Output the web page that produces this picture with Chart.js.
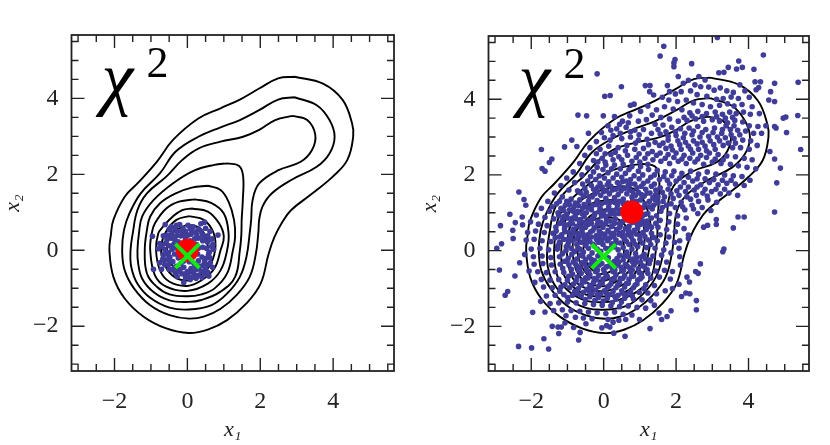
<!DOCTYPE html>
<html>
<head>
<meta charset="utf-8">
<style>
html,body{margin:0;padding:0;background:#fff;}
canvas{position:absolute;}
</style>
<script src="https://cdn.jsdelivr.net/npm/chart.js@4"></script>
</head>
<body>
<canvas id="left_panel" width="415" height="445" style="left:0;top:0"></canvas>
<canvas id="right_panel" width="413" height="444" style="left:417px;top:1px"></canvas>
<script>
var majorTicks = [-2,0,2,4];
var minorTicks = [-3,-2.5,-1.5,-1,-.5,.5,1,1.5,2.5,3,3.5,4.5,5,5.5];
var axisMin = -3.18, axisMax = 5.67;
var xLabel = "x\u2081", yLabel = "x\u2082", chiLabel = "\u03C7", chiPower = "2";

var redLeft = [[0,0]];
var redRight = [[.78,1.02]];
var greenCross = [[0,-.15]];

var contour1 = [[2.94,4.57],[3.72,4.39],[4.26,3.96],[4.52,3.34],[4.55,2.99],[4.39,2.38],[3.99,1.94],[3.38,1.46],[2.85,1.06],[2.59,.72],[2.39,.35],[2.23,-.09],[2.01,-.88],[1.62,-1.40],[1.09,-1.84],[.56,-2.09],[.04,-2.18],[-.58,-2.06],[-1.2,-1.75],[-1.72,-1.27],[-2.03,-.70],[-2.14,0],[-2.1,.4],[-2.03,.80],[-1.72,1.41],[-1.37,1.76],[-.84,2.33],[-.40,2.9],[.3,3.47],[.91,3.74],[1.44,3.97],[1.97,4.26],[2.49,4.53],[2.94,4.57]];
var contour2 = [[2.94,4.03],[3.55,3.82],[3.9,3.43],[4.04,2.99],[3.9,2.55],[3.55,2.2],[2.85,1.85],[2.32,1.5],[2.06,1.15],[1.97,.8],[1.95,.5],[1.88,-.09],[1.71,-.7],[1.35,-1.18],[.91,-1.54],[.47,-1.74],[.04,-1.8],[-.49,-1.71],[-1.02,-1.45],[-1.46,-1.01],[-1.72,-.53],[-1.79,0],[-1.74,.53],[-1.59,.97],[-1.28,1.5],[-.75,2.03],[-.32,2.6],[.3,2.99],[.91,3.24],[1.44,3.43],[1.97,3.69],[2.49,3.97],[2.94,4.03]];
var contour3 = [[2.89,3.54],[3.29,3.43],[3.51,3.04],[3.42,2.64],[3.11,2.33],[2.5,2.11],[1.97,1.76],[1.79,1.32],[1.75,.8],[1.72,.53],[1.62,-.18],[1.44,-.7],[1.09,-1.14],[.65,-1.45],[.04,-1.56],[-.49,-1.51],[-1.02,-1.25],[-1.37,-.88],[-1.54,-.44],[-1.56,0],[-1.5,.44],[-1.37,1.06],[-1.11,1.5],[-.58,1.94],[-.14,2.38],[.3,2.68],[.91,2.86],[1.53,2.99],[1.97,3.17],[2.41,3.43],[2.89,3.54]];
var contour4 = [[1.09,2.29],[1.42,2.22],[1.53,1.95],[1.52,1.3],[1.49,.8],[1.48,.4],[1.44,0],[1.31,-.7],[.91,-1.09],[.39,-1.31],[.04,-1.36],[-.49,-1.32],[-.93,-1.1],[-1.24,-.75],[-1.35,-.35],[-1.37,0],[-1.33,.44],[-1.24,.89],[-.93,1.32],[-.4,1.76],[.21,2.11],[.74,2.25],[1.09,2.29]];
var contour5 = [[.56,1.7],[.91,1.59],[1.13,1.28],[1.28,.8],[1.31,.36],[1.25,0],[1.09,-.61],[.74,-1.01],[.39,-1.16],[0,-1.21],[-.49,-1.16],[-.84,-.96],[-1.11,-.61],[-1.17,0],[-1.11,.53],[-1.02,.89],[-.75,1.24],[-.32,1.5],[.12,1.65],[.56,1.7]];
var contour6 = [[.21,1.34],[.65,1.25],[1,.97],[1.13,.45],[1.09,0],[.91,-.53],[.56,-.88],[0,-1.07],[-.58,-.96],[-.89,-.66],[-1.02,0],[-.98,.44],[-.89,.71],[-.58,1.1],[-.23,1.28],[.21,1.34]];
var contour7 = [[.12,1.1],[.56,1.02],[.87,.71],[1,.36],[.91,0],[.74,-.48],[.39,-.79],[0,-.94],[-.49,-.83],[-.75,-.53],[-.86,0],[-.8,.44],[-.67,.62],[-.4,.89],[-.14,1.06],[.12,1.1]];
var contour8 = [[.05,.9],[.45,.8],[.72,.45],[.76,0],[.58,-.45],[.25,-.7],[-.05,-.8],[-.42,-.66],[-.66,-.3],[-.72,.1],[-.58,.5],[-.3,.8],[.05,.9]];
var contour9 = [[0,.68],[.35,.58],[.55,.2],[.5,-.25],[.2,-.55],[-.15,-.6],[-.45,-.35],[-.56,.05],[-.42,.45],[0,.68]];
var contours = [contour1,contour2,contour3,contour4,contour5,contour6,contour7,contour8,contour9];

var leftPoints = [[-.61,.68],[-.96,.37],[-.21,.68],[.02,.66],[.47,.74],[.37,.7],[.84,.4],[.69,-.45],[-.93,-.5],[-.71,-.5],[-.76,-.33],[-.1,-.85],[.08,-.77],[.59,-.68],[.4,-.72],[-.8,.04],[-.76,.18],
[-.5,.55],[-.42,.48],[-.35,.6],[-.28,.5],[-.12,.58],[-.05,.5],[.08,.57],[.16,.62],[.22,.48],[.3,.56],[.1,.42],[-.18,.38],[-.45,.32],[-.55,.4],[-.35,.28],[-.6,.18],[-.5,.12],[-.38,.15],[-.25,.22],[-.62,.02],[-.52,-.06],[-.42,.03],[-.3,.06],[-.66,-.12],[-.48,-.18],[-.35,-.1],[-.58,-.25],[-.4,-.3],[-.25,-.2],[-.52,-.38],[-.3,-.42],[-.18,-.35],[-.42,-.52],[-.2,-.5],[-.1,-.45],[-.33,-.6],[-.15,-.62],[0,-.56],[.1,-.48],[.02,-.68],[.18,-.62],[.25,-.5],[.3,-.66],[.38,-.55],[.5,-.5],[.48,-.62],[.55,-.38],[.42,-.4],[.62,-.2],[.5,-.22],[.4,-.18],[.6,-.05],[.72,.02],[.52,.05],[.42,.08],[.7,.15],[.55,.22],[.42,.25],[.68,.3],[.56,.38],[.42,.4],[.3,.32],[.62,.5],[.5,.58],[.2,.3],[.08,.25],[-.05,.3],[-.15,.18],[.25,.15],[.3,.05],[.28,-.1],[.3,-.28],[.18,-.35],[.05,-.3],[-.1,-.28],[-.2,-.1],[-.18,.02],[-.08,.12],[.1,.12],[.12,-.02],[0,.02],[-.02,-.14],[.14,-.16],
[-.44,.62],[-.3,.66],[-.16,.5],[.02,.4],[.13,.5],[.26,.4],[.37,.5],[.45,.3],[.62,.28],[.66,.1],[.58,-.12],[.47,-.3],[.63,-.33],[.56,-.58],[.33,-.42],[.22,-.42],[.12,-.56],[-.06,-.62],[-.24,-.56],[-.36,-.46],[-.47,-.28],[-.6,-.1],[-.7,.1],[-.56,.28],[-.44,.4],[-.3,.38],[-.1,.4],[-.68,-.24],[-.62,-.38],[-.5,-.5],[-.28,-.7],[-.05,-.72],[.15,-.7],[.24,-.74],[-.66,.38]];

var rightPoints = [[3.14,5.63],[1.66,5.4],[1.56,5.14],[1.97,5.05],[1.94,4.96],[1.94,4.86],[2.43,4.94],[4.41,5.17],[3.73,5.01],[3.44,4.84],[3.67,4.8],[3.83,4.84],[4.15,4.79],[3.32,4.71],[3.18,4.7],[2.63,4.6],[2.06,4.6],[-.18,4.67],[5.37,4.45],[4.72,4.42],[4.33,4.46],[4.18,4.46],[2.8,4.51],[1.76,4.36],[1.15,4.36],[1.28,4.36],[.49,4.33],[3.76,4.38],[4.56,3.98],[4.72,3.94],[4.61,4.2],[4.21,4.25],[4.28,4.31],[.03,4.08],[.18,4.1],[1.27,4.2],[1.38,4.11],[.74,3.84],[.84,3.87],[-.71,3.58],[-.47,3.56],[-.01,3.56],[5.03,3.53],[4.96,3.5],[5.36,3.57],[5.05,3.12],[4.76,3.24],[4.72,3.28],[4.48,3.3],[5.44,2.67],[4.59,2.62],[4.72,2.42],[4.88,2.18],[4.78,1.79],[4.72,1.02],[-1.72,2.67],[-1.08,2.74],[-.88,2.92],[-1.43,2.42],[-1.5,2.33],[-1.7,2.17],[-1.62,2.1],[-.42,3.1],[-.74,2.75],[-2.34,1.55],[-2.2,1.35],[-2.15,1.2],[-2.59,.96],[-2.25,.89],[-2.85,.66],[-2.44,.74],[-2.51,.54],[3.71,.89],[3.88,.89],[3.58,.6],[3.11,.82],[3.11,.69],[2.87,.67],[2.76,.62],
[-2.5,.32],[-2.24,.68],[-2.95,.06],[-2.82,.18],[-2.88,-.51],[-2.32,-.32],[-2.45,-.67],[-2.65,-1.08],[-2.72,-1.18],[-1.96,-1.63],[-2.35,-2.53],[-1.99,-2.57],[-1.65,-2.33],[-1.52,-2.6],[-.69,-2.36],[.59,-2.26],[.28,-2.18],[-1.24,-2.19],[-1.42,-2],[-1.26,-2.02],[-1.17,-2.02],[-1.07,-1.91],[-.83,-2.03],[-.65,-2.16],[-.49,-1.93],[-.05,-2.04],[.08,-1.98],[.17,-2.02],[1.28,-2.06],[.99,-1.82],[.61,-1.82],[.26,-1.89],[3.32,.04],[3.29,-.03],[2.67,-.35],[2.54,-.55],[2.61,-.6],[2.37,-.83],[2.3,-.7],[2.56,-1.32],[2.56,-1.56],[2.27,-1.12],[2.38,-1.14],[2.15,-1.21],[1.86,-1.59],[1.75,-1.74],[1.6,-1.82],[1.53,-1.65],[2.08,-.89],[1.84,-.75],[1.9,-.55],[2.12,-.38],[2.1,-.16],[2.08,.06],[2.1,.26],[2.34,.41],[2.34,.32],
[2.2,4.42],[2.34,4.5],[2.52,4.38],[2.68,4.33],[2.9,4.32],[3.05,4.24],[3.22,4.3],[3.4,4.22],[3.58,4.18],[3.9,4.22],[4.02,4.05],[3.72,4.02],[3.52,4.06],[3.3,4.02],[3.12,4],[2.85,4.08],[2.58,4.12],[2.4,4.22],[2.14,4.2],[1.98,4.14],[1.82,4.2],[1.62,4.05],[1.8,3.98],[2.04,3.94],[2.28,3.98],[2.48,3.9],[2.72,3.86],[2.95,3.8],[3.2,3.84],[3.42,3.88],[3.6,3.82],[3.82,3.86],[4.1,3.8],[4.3,3.62],[4.05,3.6],[3.86,3.66],[3.66,3.62],[3.48,3.66],[3.28,3.6],[3.08,3.66],[2.84,3.62],[2.6,3.68],[2.38,3.64],[2.16,3.72],[1.92,3.74],[1.68,3.8],[1.46,3.72],[1.22,3.82],[1.02,3.68],[1.34,3.58],[1.58,3.52],[1.82,3.48],[2.06,3.42],[2.3,3.44],[2.54,3.48],[2.76,3.42],[3,3.46],[3.2,3.42],[3.42,3.38],[3.62,3.44],[3.84,3.4],[4.02,3.3],[4.26,3.28],[4.36,3.1],[4.14,3.1],[3.92,3.16],[3.7,3.18],[3.5,3.2],[3.28,3.2],[3.06,3.24],[2.82,3.2],[2.6,3.28],[2.36,3.24],[2.12,3.22],[1.88,3.26],[1.64,3.32],[1.42,3.34],[1.18,3.46],[.96,3.42],[.72,3.56],[.52,3.42],[.3,3.54],[.12,3.3],[.36,3.22],[.62,3.26],[.86,3.18],[1.1,3.2],[1.32,3.1],[1.56,3.08],[1.78,3.02],[2,3.04],[2.2,2.98],[2.44,3.06],[2.66,3],[2.9,3.02],[3.14,3],[3.36,2.98],[3.6,2.96],[3.84,2.92],[4.06,2.9],[4.24,2.78],[4.02,2.68],[3.78,2.72],[3.56,2.72],[3.3,2.78],[3.04,2.8],[2.8,2.76],[2.58,2.82],[2.34,2.76],[2.1,2.8],[1.86,2.76],[1.64,2.84],[1.42,2.86],[1.2,2.94],[.96,2.92],[.74,3],[.5,2.96],[.26,3.04],[.02,2.98],[-.2,2.88],[-.38,2.72],[-.1,2.68],[.14,2.76],[.4,2.72],[.64,2.78],[.86,2.68],[1.1,2.7],[1.34,2.62],[1.56,2.58],[1.78,2.54],[2,2.58],[2.22,2.52],[2.46,2.58],[2.68,2.52],[2.92,2.58],[3.16,2.54],[3.4,2.5],[3.64,2.48],[3.88,2.44],[4.1,2.4],[4.2,2.16],[3.96,2.2],[3.72,2.24],[3.5,2.28],[3.24,2.3],[3,2.34],[2.76,2.28],[2.52,2.34],[2.28,2.3],[2.06,2.36],[1.82,2.3],[1.58,2.36],[1.36,2.4],[1.14,2.44],[.9,2.46],[.66,2.52],[.42,2.48],[.2,2.54],[-.04,2.44],[-.28,2.38],[-.52,2.52],[-.66,2.3],[-.44,2.18],[-.18,2.2],[.06,2.26],[.3,2.26],[.54,2.28],[.78,2.22],[1.02,2.22],[1.24,2.14],[1.48,2.12],[1.7,2.08],[1.94,2.1],[2.16,2.04],[2.4,2.1],[2.62,2.02],[2.86,2.08],[3.1,2.02],[3.34,2],[3.58,1.98],[3.82,1.96],[4.04,1.86],[3.88,1.72],[3.64,1.76],[3.4,1.78],[3.16,1.74],[2.92,1.8],[2.68,1.74],[2.46,1.84],[2.22,1.8],[2,1.84],[1.76,1.86],[1.54,1.88],[1.3,1.94],[1.08,2],[.84,1.98],[.6,2.04],[.36,2.02],[.12,2.06],[-.12,1.98],[-.36,1.96],[-.6,2],[-.84,2.08],[-1.02,1.92],[-.8,1.8],[-.58,1.76],[-.34,1.72],[-.1,1.78],[.14,1.82],[.38,1.8],[.62,1.84],[.86,1.76],[1.1,1.78],[1.32,1.7],[1.56,1.66],[1.78,1.62],[2.02,1.58],[2.26,1.56],[2.5,1.6],[2.74,1.52],[2.98,1.56],[3.22,1.5],[3.46,1.52],[3.7,1.46],[3.12,1.28],[2.88,1.34],[2.62,1.3],[2.4,1.36],[2.14,1.28],[1.92,1.38],[1.68,1.42],[1.44,1.48],[1.2,1.52],[.96,1.54],[.72,1.6],[.48,1.58],[.24,1.6],[0,1.56],[-.24,1.5],[-.48,1.54],[-.72,1.58],[-.96,1.6],[-1.18,1.72],[-1.36,1.52],[-1.14,1.42],[-.9,1.36],[-.66,1.34],[-.42,1.3],[-.18,1.32],[.06,1.38],[.3,1.4],[.54,1.36],[.78,1.42],[1.02,1.34],[1.26,1.3],[1.5,1.26],[1.74,1.2],[1.98,1.14],[2.24,1.08],[2.48,1.1],[2.72,1.14],[2.96,1.06],[2.6,.98],[2.28,.86],[2.04,.92],[1.82,.98],[1.58,1.04],[1.34,1.1],[1.1,1.14],[.86,1.2],[.62,1.16],[.38,1.2],[.14,1.16],[-.1,1.12],[-.34,1.08],[-.58,1.12],[-.82,1.16],[-1.06,1.2],[-1.3,1.24],[-1.54,1.3],[-1.72,1.12],[-1.5,1.04],[-1.26,1],[-1.02,.96],[-.78,.94],[-.54,.9],[-.3,.86],[-.06,.92],[.18,.96],[.42,.98],[1.08,.92],[1.32,.86],[1.56,.8],[1.8,.76],[2.04,.7],[2.22,.58],[1.98,.5],[1.74,.56],[1.5,.62],[1.26,.66],[1.02,.7],[.78,.74],[.54,.78],[.3,.72],[.06,.72],[-.18,.68],[-.42,.7],[-.66,.74],[-.9,.76],[-1.14,.8],[-1.38,.84],[-1.62,.88],[-1.86,.94],[-2.02,.76],[-1.8,.7],[-1.56,.66],[-1.32,.62],[-1.08,.58],[-.84,.56],[-.6,.52],[-.36,.5],[-.12,.52],[.12,.54],[.36,.56],[.6,.58],[.84,.54],[1.08,.48],[1.32,.46],[1.56,.42],[1.8,.36],[1.96,.22],[1.72,.2],[1.48,.26],[1.24,.28],[1,.3],[.76,.36],[.52,.38],[.28,.36],[.04,.34],[-.2,.3],[-.44,.32],[-.68,.36],[-.92,.38],[-1.16,.42],[-1.4,.46],[-1.64,.48],[-1.88,.52],[-2.1,.48],[-2.14,.28],[-1.92,.3],[-1.7,.26],[-1.46,.24],[-1.22,.22],[-.98,.18],[-.74,.16],[-.5,.14],[-.26,.12],[-.02,.16],[.22,.18],[.46,.2],[.7,.16],[.94,.1],[1.18,.08],[1.42,.06],[1.66,.02],[1.86,-.06],[1.6,-.12],[1.36,-.14],[1.12,-.1],[.88,-.08],[.64,-.04],[.4,.02],[.16,-.4],[-.08,-.02],[-.32,-.06],[-.56,-.04],[-.8,-.02],[-1.04,0],[-1.28,.04],[-1.52,.02],[-1.76,.06],[-2,.04],[-2.18,-.1],[-1.94,-.16],[-1.7,-.14],[-1.46,-.18],[-1.22,-.16],[-.98,-.2],[-.74,-.22],[-.5,-.24],[-.26,-.26],[.3,-.28],[.54,-.24],[.78,-.28],[1.02,-.3],[1.26,-.34],[1.5,-.32],[1.74,-.3],[1.68,-.52],[1.44,-.54],[1.2,-.5],[.96,-.48],[.72,-.46],[.48,-.44],[.24,-.48],[0,-.5],[-.24,-.46],[-.48,-.44],[-.72,-.42],[-.96,-.38],[-1.2,-.36],[-1.44,-.38],[-1.68,-.34],[-1.92,-.36],[-2.06,-.54],[-1.82,-.56],[-1.58,-.58],[-1.34,-.56],[-1.1,-.58],[-.86,-.62],[-.62,-.6],[-.38,-.64],[-.14,-.66],[.1,-.68],[.34,-.64],[.58,-.66],[.82,-.68],[1.06,-.7],[1.3,-.72],[1.54,-.7],[1.4,-.92],[1.16,-.9],[.92,-.88],[.68,-.86],[.44,-.84],[.2,-.88],[-.04,-.86],[-.28,-.84],[-.52,-.82],[-.76,-.8],[-1,-.78],[-1.24,-.76],[-1.48,-.78],[-1.72,-.76],[-1.9,-.84],[-1.66,-.96],[-1.42,-.98],[-1.18,-.96],[-.94,-.98],[-.7,-1],[-.46,-1.02],[-.22,-1.04],[.02,-1.06],[.26,-1.08],[.5,-1.06],[.74,-1.08],[.98,-1.1],[1.22,-1.12],[1.46,-1.14],[1.7,-1.06],[1.9,-1],[1.3,-1.32],[1.06,-1.3],[.82,-1.28],[.58,-1.26],[.34,-1.28],[.1,-1.26],[-.14,-1.24],[-.38,-1.22],[-.62,-1.2],[-.86,-1.18],[-1.1,-1.16],[-1.34,-1.18],[-1.58,-1.2],[-1.74,-1.34],[-1.48,-1.4],[-1.24,-1.38],[-1,-1.36],[-.76,-1.38],[-.52,-1.4],[-.28,-1.42],[-.04,-1.44],[.2,-1.46],[.44,-1.48],[.68,-1.46],[.92,-1.5],[1.16,-1.52],[1.4,-1.44],[-1.62,-1.62],[-1.38,-1.58],[-1.14,-1.56],[-.9,-1.58],[-.66,-1.6],[-.42,-1.62],[-.18,-1.64],[.06,-1.66],[.3,-1.62],[.54,-1.68],[.78,-1.7],[-.56,-1.78],[-.32,-1.8],[-.78,-1.76],[-1.04,-1.72],[.42,-1.84],[.12,-1.82],
[-.62,.22],[-.38,.24],[-.14,.22],[.1,.26],[.34,.28],[.58,.3],[.82,.26],[-.86,.26],[-1.1,.3],[-1.34,.34],[-.9,.06],[-.66,.04],[-.42,.06],[-.18,.04],[.06,.06],[.3,.1],[.54,.08],[.78,.04],[-1.14,-.08],[-.88,-.1],[-.64,-.12],[-.4,-.16],[-.16,-.14],[.44,-.12],[.68,-.16],[.92,-.18],[1.16,-.22],[-1.08,-.28],[-.84,-.3],[-.6,-.32],[-.36,-.36],[-.12,-.38],[.36,-.38],[.6,-.36],[.84,-.38],[1.08,-.4],[-.7,-.52],[-.46,-.54],[-.22,-.56],[.02,-.58],[.26,-.56],[.5,-.54],[.74,-.56],[.98,-.58],[1.22,-.6],[-.5,-.72],[-.26,-.74],[-.02,-.76],[.22,-.78],[.46,-.74],[.7,-.76],[.94,-.78],[-.62,-.9],[-.38,-.92],[-.14,-.94],[.1,-.96],[.34,-.98],[.58,-.96],[.82,-.98],[-.8,-1.08],[-.56,-1.1],[-.32,-1.12],[-.08,-1.14],[.16,-1.16],[.4,-1.18],[.64,-1.16],[-.44,.42],[-.2,.4],[.04,.44],[.28,.46],[.52,.48],[.76,.46],[1,.4],[-.72,.46],[-.96,.48],[-.5,.62],[-.26,.6],[-.02,.62],[.22,.64],[.46,.66],[.7,.64],[.94,.6],[1.18,.56],[-.74,.64],[-.98,.68],[-1.22,.72],[-.64,.82],[-.4,.8],[-.16,.78],[.08,.82],[.32,.84],[.96,.82],[1.2,.78],[1.44,.72],[-.86,.86],[-1.1,.9],[-.72,1.04],[-.48,1],[-.24,.98],[0,1.02],[.24,1.06],[.48,1.08],[1.22,.98],[1.46,.92],[-.94,1.08],[-1.18,1.12],[-1.42,1.16],[-.54,1.22],[-.3,1.2],[-.06,1.24],[.18,1.28],[.42,1.3],[.66,1.26],[.9,1.3],[1.14,1.24],[1.38,1.2],[1.62,1.14],[-.78,1.26],[-1.02,1.3],[-.56,1.44],[-.32,1.42],[-.08,1.46],[.16,1.5],[.4,1.48],[.64,1.5],[.88,1.46],[1.12,1.44],[1.36,1.4],[-.28,1.62],[-.04,1.68],[.2,1.7],[.44,1.7],[.68,1.72],[.92,1.66],[1.16,1.62],[-.52,1.64],[-.22,1.88],[.02,1.92],[.26,1.92],[.5,1.94],[.74,1.88],[.98,1.9],[1.22,1.84],
[-.71,.07],[-.47,.21],[-.29,.17],[-.06,.27],[.19,.07],[.33,.2],[.63,.24],[.87,.17],[1.07,.2],[1.3,.16],[-1.03,.11],[-1.27,.13],[-.58,-.14],[-.34,-.23],[-.11,-.09],[.13,-.19],[.37,-.21],[.59,-.13],[.81,-.22],[1.05,-.16],[1.29,-.25],[-1.01,-.29],[-.77,-.36],[-.53,-.35],[-.29,-.39],[-.05,-.34],[.19,-.33],[.41,-.3],[.65,-.41],[.89,-.31],[1.13,-.43],[-1.13,-.47],[-.89,-.49],[-.65,-.47],[-.41,-.55],[-.17,-.51],[.07,-.43],[.31,-.51],[.55,-.52],[.79,-.51],[1.03,-.6],[-.97,-.68],[-.73,-.7],[-.43,-.72],[-.19,-.77],[.05,-.71],[.29,-.74],[.53,-.73],[.77,-.67],[1.01,-.74],[-.83,-.88],[-.59,-.79],[-.33,-.97],[-.09,-.87],[.15,-.93],[.39,-.91],[.63,-.87],[.87,-.91],[1.11,-1.01],[-1.07,-.9],[-.73,-1.13],[-.41,-1.07],[-.17,-1.17],[.07,-1.11],[.31,-1.21],[.55,-1.14],[.79,-1.2],[-1.21,-1.07],[-.99,-1.24],[-.5,-1.29],[-.24,-1.31],[-.01,-1.33],[.24,-1.37],[.49,-1.36],
[-.53,.31],[-.75,.31],[-.99,.29],[-1.23,.36],[-.34,.36],[-.1,.37],[.16,.33],[.42,.43],[.66,.42],[.9,.44],[1.14,.37],[1.38,.35],[-.57,.43],[-.83,.45],[-1.07,.5],[-1.31,.52],[-.3,.53],[-.07,.46],[.2,.46],[.44,.61],[.68,.53],[.92,.71],[1.16,.67],[-.62,.62],[-.86,.71],[-1.1,.7],[-.34,.72],[-.08,.75],[.18,.78],[.44,.72],[.68,.8],[1.08,.78],[1.32,.62],[-.52,.75],[-.76,.84],[-1,.86],[-1.24,.92],[-.26,.93],[.05,.91],[.3,.97],[.6,.92],[.88,1.04],[1.15,.96],[-.6,.98],[-.84,1.04],[-1.1,1.06],[-.36,1.15],[-.12,1.03],[.12,1.08],[.36,1.1],[.72,1.06],[.98,1.14],[1.26,1.16],[-.44,1.13],[-.7,1.19],[-.94,1.22],[-1.22,1.3],[-.2,1.22],[.06,1.28],[.3,1.28],[.54,1.24],[.8,1.32],[1.04,1.48],[-.4,1.42],[-.64,1.52],[-.18,1.56],[.08,1.58],[.34,1.62],[.58,1.64],[.8,1.56],[1.28,1.52],[1.5,1.42],[-.44,1.84],[-.16,1.68],[.1,1.74],[.52,1.82],[.74,1.76],[1.04,1.7],[1.4,1.76],
[2.05,2.9],[2.26,2.86],[2.48,2.9],[2.72,2.86],[1.9,2.66],[2.14,2.68],[2.4,2.68],[2.62,2.68],[2.84,2.64],[3.08,2.68],[1.7,2.44],[1.94,2.46],[2.16,2.42],[2.38,2.44],[2.6,2.42],[2.84,2.46],[3.08,2.42],[3.3,2.4],[1.78,2.92],[1.54,2.78],[1.72,2.7],[1.24,2.8],[1.46,2.52],[2.94,2.9],[3.2,2.9],[3.44,2.84],[3.64,2.84],[3.26,3.1],[3.52,3.06],[3.76,3.06],[3.02,3.12],[3.38,3.3],[3.6,3.3],[3.12,3.54],[3.36,3.5],[3.56,3.52],[2.72,3.54],[2.44,3.56],[2.22,3.52],[2.72,3.12],[2.48,3.16],[2.24,3.1],[1.98,3.14],[1.72,3.14],[1.5,3.2],[.98,3.06],[.74,3.14],[.46,3.1],[.2,3.18],[-.06,3.12],[.44,3.34],[.68,3.38],[.18,2.92],[.88,2.84],[.6,2.64],[.32,2.6],[.04,2.56],[-.2,2.56],[1.22,2.56],[.98,2.56],[.78,2.36],[.5,2.4],[.26,2.4],[.04,2.34],[-.16,2.34],[1,2.34],[1.22,2.28],[.7,2.14],[.46,2.16],[.22,2.16],[-.02,2.14],[-.28,2.08],[.96,2.1],[1.4,2],[1.66,1.96],[1.88,1.98],[2.1,1.92],[2.34,1.94],[2.58,1.9],[2.8,1.9],[3.04,1.88],[3.28,1.86],[3.52,1.86],[2.56,1.46],[2.3,1.42],[2.86,1.44],[3.1,1.62],[3.34,1.62],[2.08,1.46],[1.86,1.5],[1.62,1.54],[1.82,1.76],[1.44,1.6],[2.12,1.68],[2.34,1.68],[2.58,1.68],[2.8,1.62],[2.44,1.2],[2.18,1.16],[1.86,1.24],[1.64,1.3],[1.42,1.34]];

function toXY(list) {
  return list.map(function (p) { return {x: p[0], y: p[1]}; });
}

// frame and inward ticks on all four sides, from the scales
var frameTicks = {
  id: 'frameTicks',
  afterDatasetsDraw: function (chart) {
    var c = chart.ctx, a = chart.chartArea, sx = chart.scales.x, sy = chart.scales.y;
    function tick(v, len) {
      var px = sx.getPixelForValue(v), py = sy.getPixelForValue(v);
      c.moveTo(px, a.bottom); c.lineTo(px, a.bottom - len);
      c.moveTo(px, a.top); c.lineTo(px, a.top + len);
      c.moveTo(a.left, py); c.lineTo(a.left + len, py);
      c.moveTo(a.right, py); c.lineTo(a.right - len, py);
    }
    c.save();
    c.strokeStyle = '#222';
    c.lineWidth = 1.4;
    c.beginPath();
    majorTicks.forEach(function (v) { tick(v, 13); });
    minorTicks.forEach(function (v) { tick(v, 7); });
    c.stroke();
    c.lineWidth = 1.8;
    c.strokeRect(a.left, a.top, a.right - a.left, a.bottom - a.top);
    c.fillStyle = '#000';
    c.textBaseline = 'alphabetic';
    c.font = 'italic 72px "Liberation Serif"';
    c.fillText(chiLabel, a.left + 30, 102);
    c.font = '44px "Liberation Serif"';
    c.fillText(chiPower, a.left + 75, 77);
    c.restore();
  }
};

function panel(id, red, pts) {
  var ds = [
    {data: toXY(greenCross), pointStyle: 'crossRot', pointRadius: 17, borderColor: '#12e812', pointBorderWidth: 4, showLine: false},
    {data: toXY(red), pointRadius: 11.5, backgroundColor: '#ff0000', pointBorderWidth: 0, showLine: false},
    {data: toXY(pts), pointRadius: 2.8, backgroundColor: '#3f3c9a', pointBorderWidth: 0, showLine: false}
  ];
  contours.forEach(function (line) {
    ds.push({data: toXY(line), showLine: true, tension: 0.4, borderColor: '#000', borderWidth: 1.9, pointRadius: 0, fill: false});
  });
  function axis(label, isX) {
    return {
      type: 'linear', min: axisMin, max: axisMax,
      grid: {display: false}, border: {display: false},
      afterBuildTicks: function (s) { s.ticks = majorTicks.map(function (v) { return {value: v}; }); },
      afterFit: function (s) {
        if (isX) { s.height = 74; s.paddingLeft = 0; s.paddingRight = 0; }
        else { s.width = 71.5; s.paddingTop = 0; s.paddingBottom = 0; }
      },
      ticks: {
        color: '#222', padding: isX ? 8 : 5, maxRotation: 0, autoSkip: false,
        font: {family: '"Liberation Serif"', size: 24},
        callback: function (v) { return v < 0 ? '\u2212' + (-v) : '' + v; }
      },
      title: {display: true, text: label, color: '#222', padding: isX ? {top: 0, bottom: 2} : {top: 0, bottom: 8},
        font: {family: '"Liberation Serif"', size: 22, style: 'italic'}}
    };
  }
  return new Chart(document.getElementById(id), {
    type: 'scatter',
    data: {datasets: ds},
    options: {
      responsive: false, animation: false,
      layout: {padding: {top: 35, right: document.getElementById(id).width - 407, left: 0, bottom: 0}},
      plugins: {legend: {display: false}, tooltip: {enabled: false}},
      scales: {x: axis(xLabel, true), y: axis(yLabel, false)}
    },
    plugins: [frameTicks]
  });
}

panel('left_panel', redLeft, leftPoints);
panel('right_panel', redRight, rightPoints);
</script>
</body>
</html>
